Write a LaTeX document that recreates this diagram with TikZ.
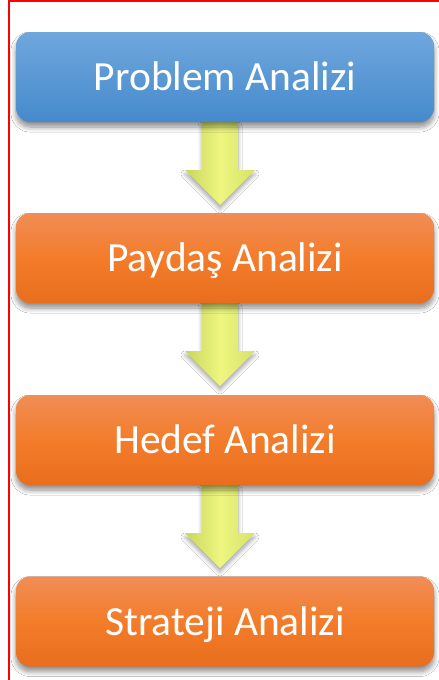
\documentclass[tikz,border=0pt]{standalone}
\usepackage{fontspec}
\setmainfont{Carlito}
\usetikzlibrary{shadows.blur}
\definecolor{blueTop}{RGB}{111,167,221}
\definecolor{blueBot}{RGB}{70,138,204}
\definecolor{orTop}{RGB}{241,141,86}
\definecolor{orMid}{RGB}{243,124,42}
\definecolor{orBot}{RGB}{232,110,30}
\definecolor{arDark}{RGB}{200,214,92}
\definecolor{arLight}{RGB}{238,246,128}
\definecolor{arRight}{RGB}{214,226,104}
\tikzset{
  box/.style={rounded corners=14pt, minimum width=418pt, minimum height=90pt,
    inner sep=0pt, text=white, font=\fontsize{41.5}{46}\selectfont,
    text height=27pt, text depth=0pt,
    blur shadow={shadow xshift=0pt, shadow yshift=-5pt, shadow blur steps=8, shadow blur radius=5pt, shadow opacity=45}},
  bluebox/.style={box, top color=blueTop, bottom color=blueBot},
  orangebox/.style={box, top color=orTop, bottom color=orBot, middle color=orMid},
  flowarrow/.style={left color=arDark, right color=arRight, middle color=arLight,
    blur shadow={shadow xshift=0pt, shadow yshift=-4pt, shadow blur steps=6, shadow blur radius=4pt, shadow opacity=35}},
  frameline/.style={draw=red, line width=2pt}
}
\begin{document}
\begin{tikzpicture}[x=1pt,y=-1pt]
\useasboundingbox (0,0) rectangle (439,680);
\fill[white] (0,0) rectangle (439,680);
\draw[frameline] (8.5,680) -- (8.5,1) -- (439,1);
% arrows
\foreach \t [count=\i] in {122,303,485}{
  \path[flowarrow] (202,\t) -- (238,\t) -- (238,\t+48) -- (255,\t+48) -- (220,\t+83) -- (185,\t+48) -- (202,\t+48) -- cycle;
}
\node[bluebox] (p1) at (225,77) {Problem Analizi};
\node[orangebox] (p2) at (225,258) {Paydaş Analizi};
\node[orangebox] (p3) at (225,440) {Hedef Analizi};
\node[orangebox] (p4) at (225,621.5) {Strateji Analizi};
\end{tikzpicture}
\end{document}
